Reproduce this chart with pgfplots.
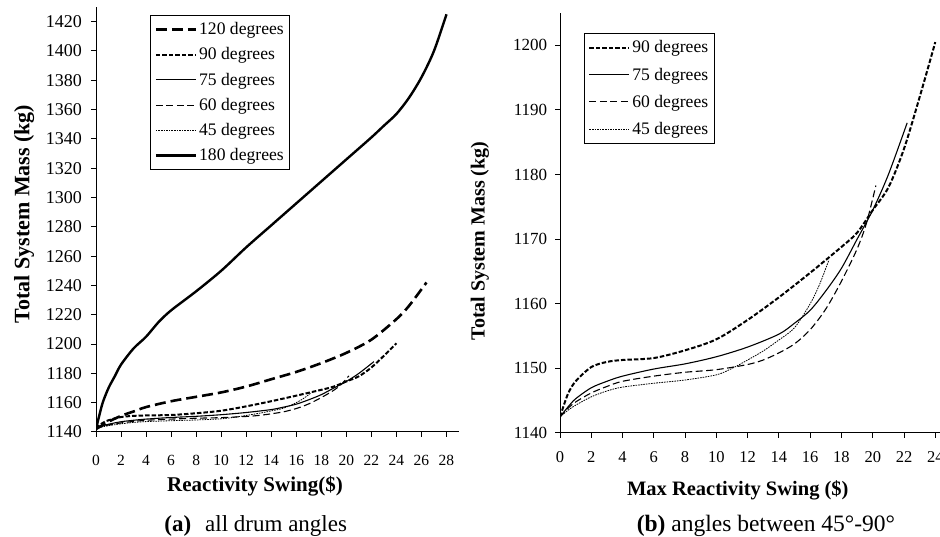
\documentclass[border=0pt]{standalone}
\usepackage{fontspec}
\setmainfont{Liberation Serif}
\usepackage{pgfplots}
\pgfplotsset{compat=1.18}
\usepackage{pgfplotstable}

% 180 degrees
\pgfplotstableread{
x y
0 1142
0.5 1159
1 1170
1.5 1178
2 1186
3 1197
4 1205
5 1215
6 1223
8 1236
10 1250
12 1266
14 1281
16 1296
18 1311
20 1326
22 1341
23 1349
24 1357
25 1368
26 1382
27 1400
28 1425
}\degCLXXX
% 120 degrees
\pgfplotstableread{
x y
0 1142
1 1147
2 1151
3 1154
4 1157
6 1161
8 1164
10 1167
12 1171
14 1176
16 1181
18 1187
20 1194
22 1203
24 1217
25 1226
26.4 1242
}\degCXX
% 90 degrees
\pgfplotstableread{
x y
0 1142.5
0.5 1146
1 1148
2 1150.2
3 1151
4 1151.3
6 1151.6
8 1152.8
10 1154.5
12 1157.5
14 1161
16 1164.8
18 1168.8
19 1171
20 1174.5
21 1178
22 1184
23 1192
24 1200.5
}\degXC
% 75 degrees
\pgfplotstableread{
x y
0 1142.5
0.5 1144
1 1145.3
2 1147
3 1148
4 1148.8
6 1149.9
8 1150.7
10 1151.8
12 1153.3
14 1155.3
15 1157
16 1159
17 1162
18 1165.5
19 1170
20 1174.5
21 1180
22.2 1188
}\degLXXV
% 60 degrees
\pgfplotstableread{
x y
0 1142.5
0.5 1143.8
1 1144.8
2 1146.2
3 1147.2
4 1148
6 1148.8
8 1149.4
10 1149.8
12 1150.6
13 1151.3
14 1152.4
15 1153.8
16 1156
17 1159.2
18 1163.5
19 1168.5
19.6 1172.5
20.2 1178.3
}\degLX
% 45 degrees
\pgfplotstableread{
x y
0 1142.5
0.5 1143.5
1 1144.3
2 1145.6
3 1146.5
4 1147.1
6 1147.7
8 1148.2
10 1149
11 1150
12 1151.3
13 1152.7
14 1154.4
15 1156.3
16 1160
16.6 1163
17.2 1166.8
}\degXLV

\pgfplotsset{
  s180/.style={black, line width=2.4pt, smooth},
  s120/.style={black, line width=2.6pt, dash pattern=on 11pt off 5pt, smooth},
  s90/.style={black, line width=2pt, dash pattern=on 4.5pt off 2pt, smooth},
  s75/.style={black, line width=1.1pt, smooth},
  s60/.style={black, line width=1.1pt, dash pattern=on 7pt off 3.5pt, smooth},
  s45/.style={black, line width=0.8pt, dash pattern=on 1.6pt off 1pt, smooth},
  base/.style={
    scale only axis, anchor=south west,
    axis x line*=bottom, axis y line*=left,
    enlargelimits=false, clip mode=individual,
    tick align=outside, major tick length=5pt,
    tick style={black, line width=1pt},
    axis line style={black, line width=1pt},
    /pgf/number format/assume math mode=true,
    /pgf/number format/1000 sep={},
    legend cell align=left,
    legend image code/.code={\draw[#1] (0pt,0pt) -- (40pt,0pt);},
    legend style={draw=black, line width=1pt, fill=white,
      inner xsep=4pt, inner ysep=5pt,
      nodes={inner sep=2pt}},
  },
}

\begin{document}
\begin{tikzpicture}
\useasboundingbox (0pt,0pt) rectangle (940pt,537pt);

\begin{axis}[base,
  at={(96pt,105pt)}, width=363pt, height=425pt,
  xmin=0, xmax=29, ymin=1140, ymax=1430,
  xtick={0,2,...,28}, ytick={1140,1160,...,1420},
  xticklabel={\fontsize{15.5}{18}\selectfont\pgfmathprintnumber{\tick}},
  yticklabel={\fontsize{18}{20}\selectfont\pgfmathprintnumber{\tick}},
  xticklabel style={yshift=-15pt},
  yticklabel style={xshift=-5.5pt},
  xlabel={\textbf{Reactivity Swing(\$)}},
  ylabel={\textbf{Total System Mass (kg)}},
  xlabel style={font=\fontsize{21}{24}\selectfont, at={(axis description cs:0.438,-0.127)}, anchor=center},
  ylabel style={font=\fontsize{22}{24}\selectfont, at={(axis description cs:-0.198,0.513)}, anchor=center, rotate=0},
  legend style={at={(axis description cs:0.149,0.981)}, anchor=north west,
    font=\fontsize{17.6}{19}\selectfont, row sep=7.5pt},
]
\addplot[s120] table {\degCXX};
\addlegendentry{120 degrees}
\addplot[s90] table {\degXC};
\addlegendentry{90 degrees}
\addplot[s75] table {\degLXXV};
\addlegendentry{75 degrees}
\addplot[s60] table {\degLX};
\addlegendentry{60 degrees}
\addplot[s45] table {\degXLV};
\addlegendentry{45 degrees}
\addplot[s180] table {\degCLXXX};
\addlegendentry{180 degrees}
\node[font=\fontsize{23}{26}\selectfont] at (axis description cs:0.44,-0.222)
  {\textbf{(a)}\hspace{14pt}all drum angles};
\end{axis}

\begin{axis}[base,
  at={(560pt,104pt)}, width=380pt, height=420pt,
  xmin=0, xmax=24.3, ymin=1140, ymax=1205,
  xtick={0,2,...,24}, ytick={1140,1150,...,1200},
  xticklabel={\fontsize{16.5}{18}\selectfont\pgfmathprintnumber{\tick}},
  yticklabel={\fontsize{17}{20}\selectfont\pgfmathprintnumber{\tick}},
  xticklabel style={yshift=-10pt},
  yticklabel style={xshift=-4.3pt},
  xlabel={\textbf{Max Reactivity Swing (\$)}},
  ylabel={\textbf{Total System Mass (kg)}},
  xlabel style={font=\fontsize{20.5}{23}\selectfont, at={(axis description cs:0.468,-0.136)}, anchor=center},
  ylabel style={font=\fontsize{20}{23}\selectfont, at={(axis description cs:-0.2105,0.457)}, anchor=center, rotate=0},
  legend style={at={(axis description cs:0.063,0.952)}, anchor=north west,
    font=\fontsize{17.6}{19}\selectfont, row sep=9.5pt},
]
\addplot[s90] table {\degXC};
\addlegendentry{90 degrees}
\addplot[s75] table {\degLXXV};
\addlegendentry{75 degrees}
\addplot[s60] table {\degLX};
\addlegendentry{60 degrees}
\addplot[s45] table {\degXLV};
\addlegendentry{45 degrees}
\node[font=\fontsize{23.5}{26}\selectfont] at (axis description cs:0.542,-0.221)
  {\textbf{(b)} angles between 45°-90°};
\end{axis}
\end{tikzpicture}
\end{document}
